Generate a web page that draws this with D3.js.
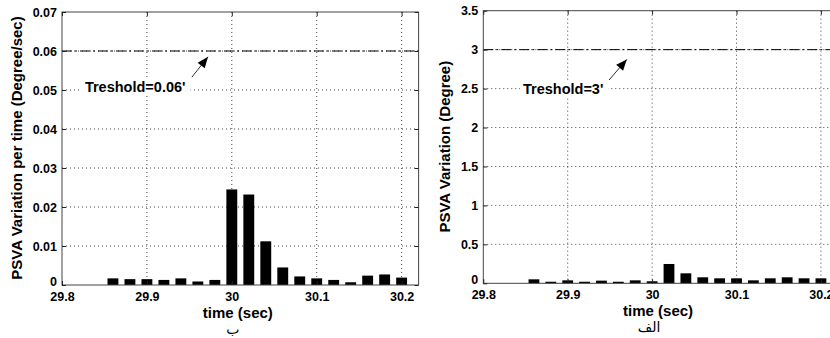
<!DOCTYPE html>
<html>
<head>
<meta charset="utf-8">
<script src="https://cdn.jsdelivr.net/npm/d3@7"></script>
<style>
  html, body { margin: 0; padding: 0; background: #fff; }
  svg { display: block; font-family: "Liberation Sans", Arial, sans-serif; }
  .tick text { font-size: 12.5px; font-weight: bold; fill: #000; }
  .axis .domain { display: none; }
  .axis line { stroke: #222; }
  .grid line { stroke: #444; stroke-dasharray: 1,3; }
  .axis-title { font-size: 15px; font-weight: bold; fill: #000; }
  .note { font-size: 14.5px; font-weight: bold; fill: #000; }
  .caption { font-family: "DejaVu Sans", "Noto Sans", sans-serif; font-size: 14px; fill: #000; }
</style>
</head>
<body>
<div id="chart"></div>
<script>
// sample times (sec)
const times = [29.86, 29.88, 29.90, 29.92, 29.94, 29.96, 29.98, 30.00, 30.02,
               30.04, 30.06, 30.08, 30.10, 30.12, 30.14, 30.16, 30.18, 30.20];

// panel "ب": PSVA variation per time (Degree/sec)
const rateValues = [0.0017, 0.0015, 0.0015, 0.0013, 0.0017, 0.0009, 0.0013, 0.0245, 0.0232,
                    0.0112, 0.0045, 0.0022, 0.0017, 0.0013, 0.0007, 0.0024, 0.0027, 0.0019];

// panel "الف": PSVA variation (Degree)
const angleValues = [0.051, 0.020, 0.038, 0.020, 0.034, 0.020, 0.038, 0.026, 0.248,
                     0.128, 0.077, 0.064, 0.064, 0.038, 0.064, 0.077, 0.064, 0.064];

const xTicks = [29.8, 29.9, 30.0, 30.1, 30.2];
const rateTicks = [0, 0.01, 0.02, 0.03, 0.04, 0.05, 0.06, 0.07];
const angleTicks = [0, 0.5, 1, 1.5, 2, 2.5, 3, 3.5];

const rateThreshold = 0.06;
const angleThreshold = 3;

const svg = d3.select('#chart').append('svg')
  .attr('width', 830)
  .attr('height', 338);

function drawPanel(cfg) {
  const w = cfg.width, h = cfg.height;
  const g = svg.append('g').attr('transform', `translate(${cfg.left},${cfg.top})`);

  const x = d3.scaleLinear().domain([29.8, 30.22]).range([0, w]);
  const y = d3.scaleLinear().domain([0, cfg.yMax]).range([h, 0]);

  // dotted grid
  g.append('g').attr('class', 'grid')
    .selectAll('line')
    .data(xTicks.filter(d => d > 29.8))
    .join('line')
    .attr('x1', d => x(d)).attr('x2', d => x(d))
    .attr('y1', 0).attr('y2', h);
  g.append('g').attr('class', 'grid')
    .selectAll('line')
    .data(cfg.yTicks.filter(d => d > 0 && d < cfg.yMax))
    .join('line')
    .attr('x1', 0).attr('x2', w)
    .attr('y1', d => y(d)).attr('y2', d => y(d));

  // bars
  const half = 0.0064;
  g.selectAll('.bar')
    .data(times.map((t, i) => ({ t, v: cfg.values[i] })))
    .join('rect')
    .attr('class', 'bar')
    .attr('x', d => x(d.t - half))
    .attr('width', d => x(d.t + half) - x(d.t - half))
    .attr('y', d => y(d.v))
    .attr('height', d => h - y(d.v))
    .attr('fill', '#000');

  // threshold line
  g.append('line')
    .attr('x1', 0).attr('x2', w)
    .attr('y1', y(cfg.threshold)).attr('y2', y(cfg.threshold))
    .attr('stroke', '#000')
    .attr('stroke-width', 1)
    .attr('stroke-dasharray', '10,3,2,3');

  // annotation text with white background
  const note = g.append('text')
    .attr('class', 'note')
    .attr('x', x(cfg.note.t))
    .attr('y', y(cfg.note.v))
    .attr('dominant-baseline', 'middle')
    .text(cfg.note.label);
  const bb = note.node().getBBox();
  g.insert('rect', '.note')
    .attr('x', bb.x - 3).attr('y', bb.y)
    .attr('width', bb.width + 8).attr('height', bb.height)
    .attr('fill', '#fff');

  // arrow
  const ax1 = x(cfg.arrow[0]), ay1 = y(cfg.arrow[1]);
  const ax2 = x(cfg.arrow[2]), ay2 = y(cfg.arrow[3]);
  g.append('line')
    .attr('x1', ax1).attr('y1', ay1).attr('x2', ax2).attr('y2', ay2)
    .attr('stroke', '#333').attr('stroke-width', 1);
  const ang = Math.atan2(ay2 - ay1, ax2 - ax1);
  const L = 11, W = 4.5;
  const bx = ax2 - L * Math.cos(ang), by = ay2 - L * Math.sin(ang);
  g.append('path')
    .attr('d', `M${ax2},${ay2}L${bx - W * Math.sin(ang)},${by + W * Math.cos(ang)}L${bx + W * Math.sin(ang)},${by - W * Math.cos(ang)}Z`)
    .attr('fill', '#000');

  // frame
  g.append('rect')
    .attr('width', w).attr('height', h)
    .attr('fill', 'none')
    .attr('stroke', '#444');

  // axes with inward ticks
  g.append('g').attr('class', 'axis')
    .attr('transform', `translate(0,${h})`)
    .call(d3.axisBottom(x).tickValues(xTicks).tickSize(-4).tickPadding(7).tickFormat(d3.format('')));
  g.append('g').attr('class', 'axis')
    .call(d3.axisTop(x).tickValues(xTicks).tickSize(-4).tickFormat(''));
  const yAxisG = g.append('g').attr('class', 'axis')
    .call(d3.axisLeft(y).tickValues(cfg.yTicks).tickSize(-4).tickPadding(5).tickFormat(d3.format('')));
  // lift the "0" label a little so it clears the x labels
  yAxisG.selectAll('.tick text').filter(d => d === 0).attr('dy', '0.05em');
  g.append('g').attr('class', 'axis')
    .attr('transform', `translate(${w},0)`)
    .call(d3.axisRight(y).tickValues(cfg.yTicks).tickSize(-4).tickFormat(''));

  // titles
  g.append('text')
    .attr('class', 'axis-title')
    .attr('x', x(30.0) + 6)
    .attr('y', h + 33)
    .attr('text-anchor', 'middle')
    .text('time (sec)');
  g.append('text')
    .attr('class', 'axis-title')
    .attr('transform', `translate(${cfg.yTitleX},${cfg.yTitleY}) rotate(-90)`)
    .attr('text-anchor', 'middle')
    .attr('dominant-baseline', 'middle')
    .text(cfg.yTitle);
  g.append('text')
    .attr('class', 'caption')
    .attr('x', x(30.0) + cfg.captionDx)
    .attr('y', h + 49)
    .attr('text-anchor', 'middle')
    .text(cfg.caption);
}

drawPanel({
  left: 62, top: 12, width: 356.6, height: 273,
  yMax: 0.07, yTicks: rateTicks, values: rateValues,
  threshold: rateThreshold,
  note: { t: 29.827, v: 0.0505, label: "Treshold=0.06'" },
  arrow: [29.953, 0.0533, 29.972, 0.0585],
  yTitle: 'PSVA Variation per time (Degree/sec)',
  yTitleX: -44, yTitleY: 136,
  caption: 'ب', captionDx: 1
});

drawPanel({
  left: 483.3, top: 10.7, width: 354.5, height: 272.6,
  yMax: 3.5, yTicks: angleTicks, values: angleValues,
  threshold: angleThreshold,
  note: { t: 29.847, v: 2.48, label: "Treshold=3'" },
  arrow: [29.949, 2.61, 29.970, 2.875],
  yTitle: 'PSVA Variation (Degree)',
  yTitleX: -37, yTitleY: 136,
  caption: 'الف', captionDx: -3
});
</script>
</body>
</html>
